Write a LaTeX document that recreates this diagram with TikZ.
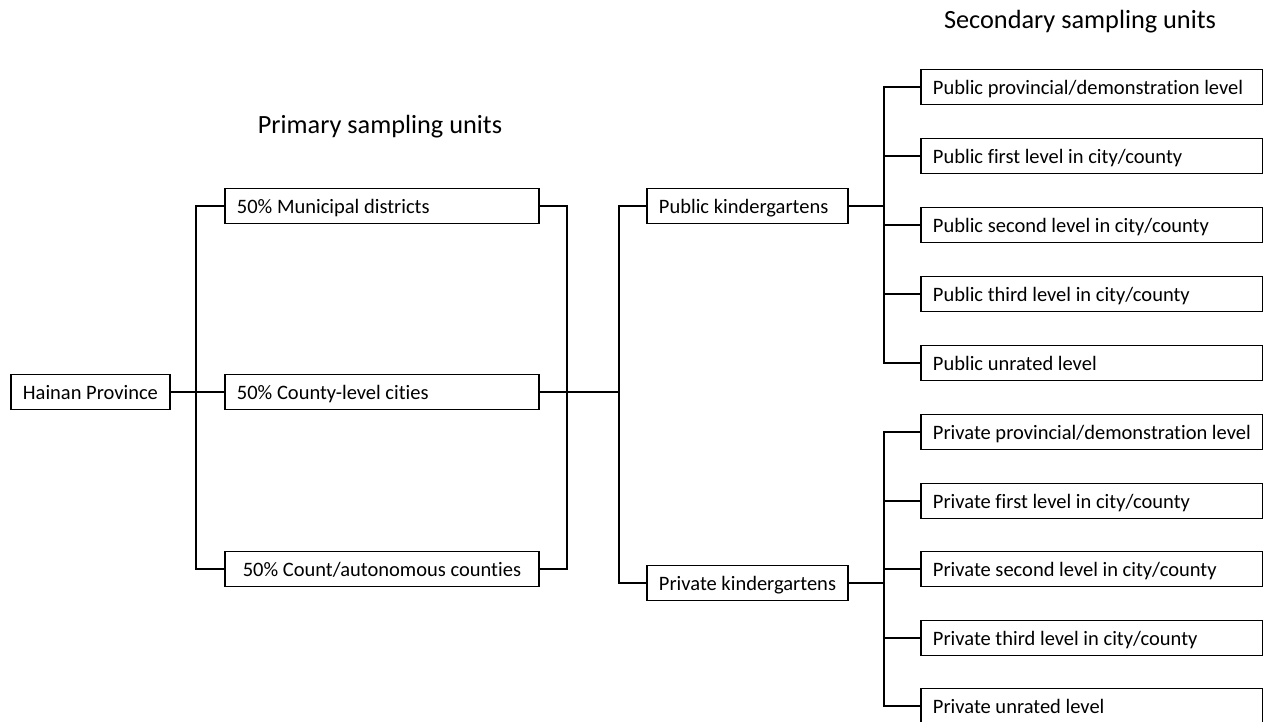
\documentclass[tikz,border=0pt]{standalone}
\usepackage{fontspec}
\setmainfont[Ligatures=NoCommon]{Carlito}
\newcommand{\lbtxt}[2]{\makebox[#1][l]{#2}}
\begin{document}
\begin{tikzpicture}[x=1pt,y=-1pt,
  box/.style={draw,line width=1.9pt,minimum height=35pt,inner ysep=0pt,text height=16pt,text depth=2pt,font=\fontsize{20.5}{22}\selectfont,anchor=west},
  lbox/.style={box,inner xsep=12pt},
  title/.style={font=\fontsize{26.3}{28}\selectfont},
  conn/.style={line width=1.9pt}]
\useasboundingbox (0,0) rectangle (1263,721);
\node[title] (t1) at (380,127) {Primary sampling units};
\node[title] (t2) at (1080,22) {Secondary sampling units};

\node[box,minimum width=159pt] (hp) at (10,392) {Hainan Province};
\node[lbox] (mun) at (224,206) {\lbtxt{290pt}{50\% Municipal districts}};
\node[lbox] (cty) at (224,392) {\lbtxt{290pt}{50\% County-level cities}};
\node[box,minimum width=314pt] (cnt) at (224,569) {50\% Count/autonomous counties};

\node[lbox] (pub) at (646,206) {\lbtxt{177pt}{Public kindergartens}};
\node[lbox] (pri) at (646,583) {\lbtxt{177pt}{Private kindergartens}};

\node[lbox] (u1) at (920,87) {\lbtxt{318pt}{Public provincial/demonstration level}};
\node[lbox] (u2) at (920,156) {\lbtxt{318pt}{Public first level in city/county}};
\node[lbox] (u3) at (920,225) {\lbtxt{318pt}{Public second level in city/county}};
\node[lbox] (u4) at (920,294) {\lbtxt{318pt}{Public third level in city/county}};
\node[lbox] (u5) at (920,363) {\lbtxt{318pt}{Public unrated level}};

\node[lbox] (v1) at (920,432) {\lbtxt{318pt}{Private provincial/demonstration level}};
\node[lbox] (v2) at (920,501) {\lbtxt{318pt}{Private first level in city/county}};
\node[lbox] (v3) at (920,569) {\lbtxt{318pt}{Private second level in city/county}};
\node[lbox] (v4) at (920,638) {\lbtxt{318pt}{Private third level in city/county}};
\node[lbox] (v5) at (920,706) {\lbtxt{318pt}{Private unrated level}};

\coordinate (j1) at (196,392);
\coordinate (j2) at (567,392);
\coordinate (j3) at (619,392);
\coordinate (j4) at (884,206);
\coordinate (j5) at (884,583);

\draw[conn] (hp.east) -- (cty.west);
\draw[conn] (j1) |- (mun.west);
\draw[conn] (j1) |- (cnt.west);
\draw[conn] (mun.east) -| (j2) |- (cnt.east);
\draw[conn] (cty.east) -- (j3);
\draw[conn] (j3) |- (pub.west);
\draw[conn] (j3) |- (pri.west);
\draw[conn] (pub.east) -- (j4);
\draw[conn] (pri.east) -- (j5);
\foreach \n in {u1,u2,u3,u4,u5} \draw[conn] (j4) |- (\n.west);
\foreach \n in {v1,v2,v3,v4,v5} \draw[conn] (j5) |- (\n.west);
\end{tikzpicture}
\end{document}
